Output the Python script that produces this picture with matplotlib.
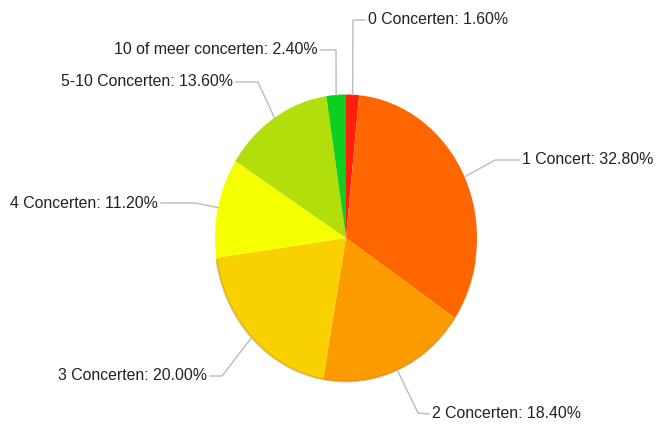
import numpy as np
import matplotlib
matplotlib.use('Agg')
import matplotlib.pyplot as plt

labels = ['0 Concerten', '1 Concert', '2 Concerten', '3 Concerten',
          '4 Concerten', '5-10 Concerten', '10 of meer concerten']
shares = [1.6, 32.8, 18.4, 20.0, 11.2, 13.6, 2.4]
colors = ['#ff1f0d', '#ff6600', '#fd9c00', '#f9d100', '#f6ff00', '#b2de0b', '#0ccf1f']

# label layout in pixel coords: elbow point and text anchor
elbows = [(353, 20), (495, 160), (418, 413), (222, 376), (195, 203), (258, 82), (336, 50)]
text_pos = [(368, 20), (522, 160), (432, 414), (207, 376), (158, 203), (233, 82), (318, 50)]

W, H = 658, 426
cx, cy, rx, ry = 346, 238, 131, 143.5

fig = plt.figure(figsize=(W / 100, H / 100), dpi=100)
ax = fig.add_axes([(cx - rx) / W, (H - cy - ry) / H, 2 * rx / W, 2 * ry / H])

wedges, _ = ax.pie(shares, colors=colors, startangle=90, counterclock=False,
                   wedgeprops=dict(linewidth=0))
ax.set_aspect('auto')
ax.set_xlim(-1, 1)
ax.set_ylim(-1, 1)
ax.axis('off')

# darker rim at the bottom
t = np.linspace(np.pi * 1.05, np.pi * 1.95, 100)
ax.plot(np.cos(t), np.sin(t), color='#b07000', alpha=0.35, lw=1.5, clip_on=False)


def to_data(px, py):
    return (px - cx) / rx, (cy - py) / ry


start = 90.0
for lab, v, el, tp in zip(labels, shares, elbows, text_pos):
    mid = np.deg2rad(start - v * 3.6 / 2)
    start -= v * 3.6
    x0, y0 = np.cos(mid), np.sin(mid)
    ex, ey = to_data(*el)
    tx, ty = to_data(*tp)
    gap = 3 / rx if tx > ex else -3 / rx
    ax.plot([x0, ex, tx - gap], [y0, ey, ty], color='#bbbbbb', lw=1, clip_on=False)
    ha = 'left' if tx > ex else 'right'
    ax.text(tx, ty, f'{lab}: {v:.2f}%', ha=ha, va='center', fontsize=11.4,
            family='Liberation Sans', color='#222222')

fig.savefig('out.png', dpi=100)
